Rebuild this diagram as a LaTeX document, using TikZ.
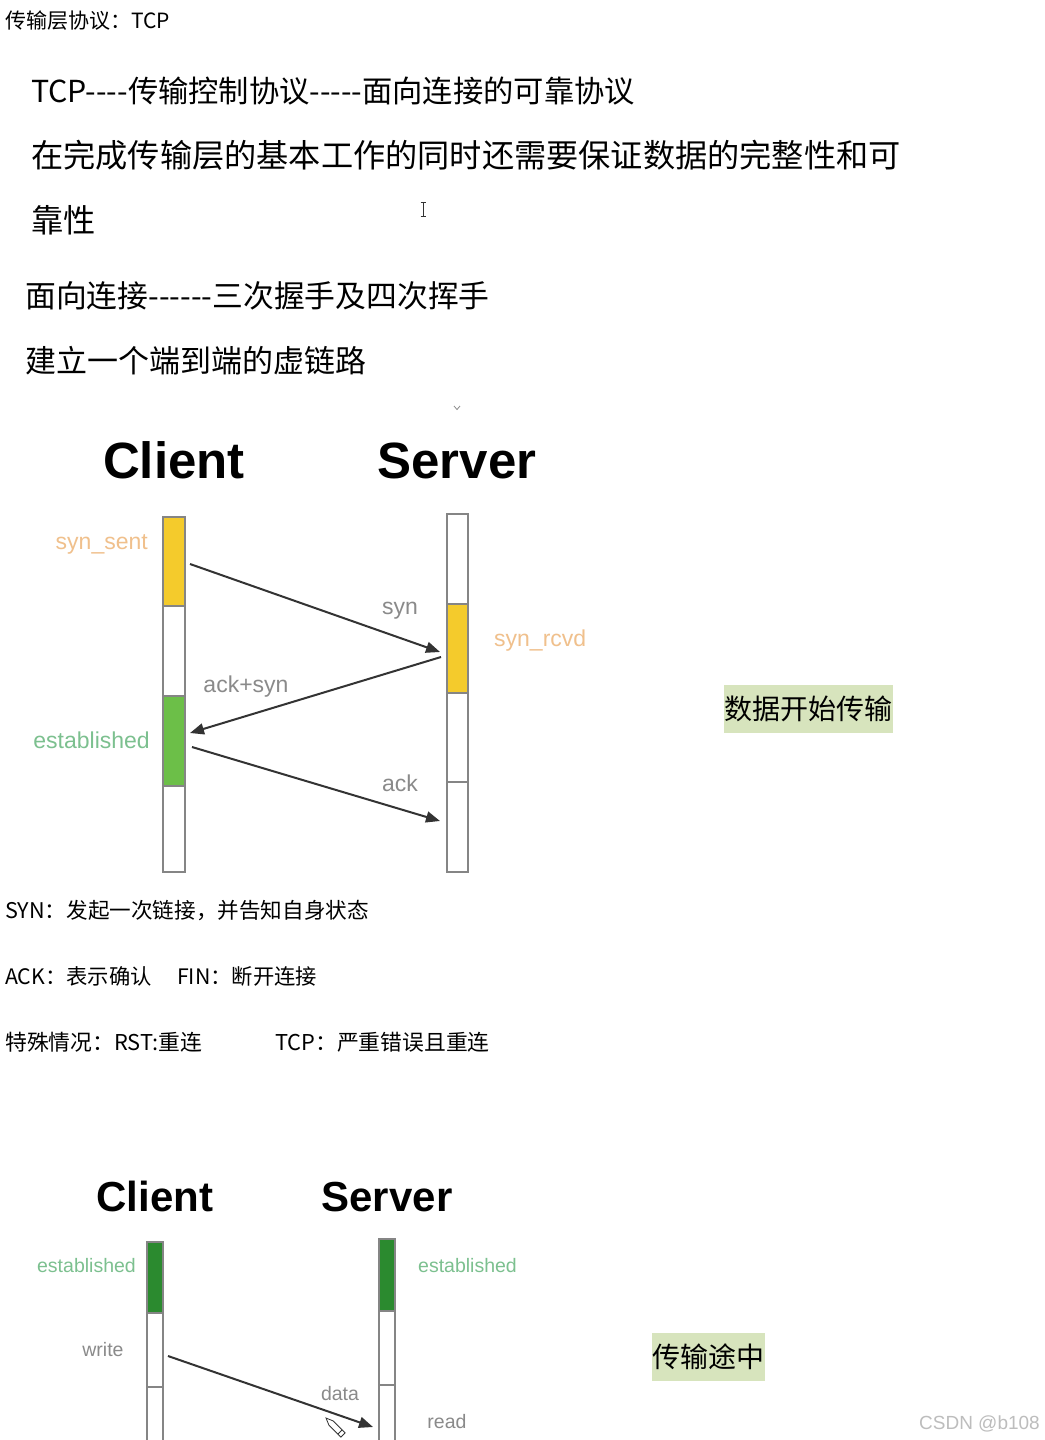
\documentclass[tikz,border=0pt]{standalone}
\usepackage{fontspec}
\newfontfamily\cjk{Noto Sans CJK SC}
\newfontfamily\helv{Liberation Sans}
\usetikzlibrary{arrows.meta}
\newcommand\myfs[1]{\fontsize{#1}{#1}\selectfont}
\definecolor{yel}{HTML}{F4CB2C}
\definecolor{grn}{HTML}{6CBF48}
\definecolor{dgrn}{HTML}{2B8A2F}
\definecolor{barc}{HTML}{858585}
\definecolor{arr}{HTML}{333333}
\definecolor{labg}{HTML}{8A8A8A}
\definecolor{orng}{HTML}{F0C08C}
\definecolor{lgrn}{HTML}{7CC08F}
\definecolor{hl}{HTML}{D7E4BD}
\definecolor{wm}{HTML}{BDBDBD}
\begin{document}
\begin{tikzpicture}[x=1pt,y=-1pt,
  cn/.style={inner sep=0pt, anchor=west, font=\cjk\myfs{#1}},
  hd/.style={inner sep=0pt, anchor=base, font=\helv\bfseries\myfs{#1}},
  lab/.style={inner sep=0pt, font=\helv\myfs{#1}},
  bar/.style={draw=barc, line width=1.6pt},
  msg/.style={draw=arr, line width=2pt, -{Triangle[length=14pt,width=11pt]}},
  hlbox/.style={fill=hl, inner sep=0pt, font=\cjk\myfs{28}}]
\useasboundingbox (0,0) rectangle (1044,1440);
\clip (0,0) rectangle (1044,1440);
\fill[white] (0,0) rectangle (1044,1440);

% ---------- text block ----------
\node[cn=21] (t1) at (5,21) {传输层协议：TCP};
\node[cn=30.3] (t2) at (31,91) {TCP----传输控制协议-----面向连接的可靠协议};
\node[cn=32.2] (t3) at (31,155) {在完成传输层的基本工作的同时还需要保证数据的完整性和可};
\node[cn=32.2] (t4) at (31,220) {靠性};
\node[cn=30.8] (t5) at (25,296) {面向连接------三次握手及四次挥手};
\node[cn=31] (t6) at (25,361) {建立一个端到端的虚链路};

% cursor artefacts
\draw[arr, line width=0.9pt] (423,202) -- (423,216) (420.5,202) -- (425.5,202) (420.5,216) -- (425.5,216);
\draw[labg, line width=0.8pt] (454,406) -- (457,409.5) -- (460,406);

% ---------- diagram 1 ----------
\node[hd=51] (cl1) at (174,478) {Client};
\node[hd=51] (sv1) at (457,478) {Server};

\draw[bar, fill=yel]   (163,517) rectangle (185,606);
\draw[bar, fill=white] (163,606) rectangle (185,696);
\draw[bar, fill=grn]   (163,696) rectangle (185,786);
\draw[bar, fill=white] (163,786) rectangle (185,872);

\draw[bar, fill=white] (447,514) rectangle (468,604);
\draw[bar, fill=yel]   (447,604) rectangle (468,693);
\draw[bar, fill=white] (447,693) rectangle (468,782);
\draw[bar, fill=white] (447,782) rectangle (468,872);

\coordinate (c1a) at (190,564);
\coordinate (s1a) at (440,652);
\coordinate (s1b) at (441,657);
\coordinate (c1b) at (190,733);
\coordinate (c1c) at (192,747);
\coordinate (s1c) at (440,821);
\draw[msg] (c1a) -- (s1a);
\draw[msg] (s1b) -- (c1b);
\draw[msg] (c1c) -- (s1c);

\node[lab=23, text=orng, anchor=base east] (ss) at (148,549) {syn\_sent};
\node[lab=23, text=labg, anchor=base] (syn) at (400,614) {syn};
\node[lab=23, text=orng, anchor=base west] (sr) at (494,646) {syn\_rcvd};
\node[lab=23, text=labg, anchor=base] (as) at (246,692) {ack+syn};
\node[lab=23, text=lgrn, anchor=base east] (est1) at (150,748) {established};
\node[lab=23, text=labg, anchor=base] (ack) at (400,791) {ack};

\node[hlbox, minimum width=169pt, minimum height=48pt] (hl1) at (808.5,709) {数据开始传输};

% ---------- notes ----------
\node[cn=21.6] (n1) at (5,911) {SYN：发起一次链接，并告知自身状态};
\node[cn=21.3] (n2) at (5,976) {ACK：表示确认};
\node[cn=21.3] (n3) at (177,976) {FIN：断开连接};
\node[cn=21.8] (n4) at (5,1042) {特殊情况：RST:重连};
\node[cn=21.8] (n5) at (275,1042) {TCP：严重错误且重连};

% ---------- diagram 2 ----------
\node[hd=42] (cl2) at (155,1211) {Client};
\node[hd=42] (sv2) at (387,1211) {Server};

\draw[bar, fill=dgrn]  (147,1242) rectangle (163,1313);
\draw[bar, fill=white] (147,1313) rectangle (163,1387);
\draw[bar, fill=white] (147,1387) rectangle (163,1450);

\draw[bar, fill=dgrn]  (379,1239) rectangle (395,1311);
\draw[bar, fill=white] (379,1311) rectangle (395,1385);
\draw[bar, fill=white] (379,1385) rectangle (395,1450);

\coordinate (c2a) at (168,1356);
\coordinate (s2a) at (373,1427);
\draw[msg] (c2a) -- (s2a);

\node[lab=19.5, text=lgrn, anchor=base east] (est2) at (136,1272) {established};
\node[lab=19.5, text=lgrn, anchor=base west] (est3) at (418,1272) {established};
\node[lab=19.5, text=labg, anchor=base] (wr) at (103,1356) {write};
\node[lab=19.5, text=labg, anchor=base] (dt) at (340,1400) {data};
\node[lab=19.5, text=labg, anchor=base] (rd) at (447,1428) {read};

% pencil cursor
\draw[arr, line width=0.8pt, fill=white] (326,1418) -- (328.9,1425.1) -- (340.9,1437.1) -- (345.1,1432.9) -- (333.1,1420.9) -- cycle;
\draw[arr, line width=0.8pt] (337.9,1434.1) -- (342.1,1429.9);

\node[hlbox, minimum width=113pt, minimum height=48pt] (hl2) at (708.5,1357) {传输途中};

\node[lab=19, text=wm, anchor=base east] (wmk) at (1040,1429) {CSDN @b108};
\end{tikzpicture}
\end{document}
